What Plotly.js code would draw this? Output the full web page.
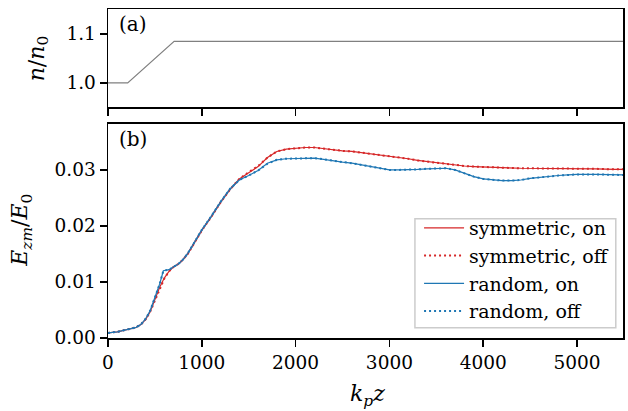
<!DOCTYPE html>
<html>
<head>
<meta charset="utf-8">
<script src="https://cdn.plot.ly/plotly-3.0.1.min.js"></script>
<style>html,body{margin:0;padding:0;background:#fff;}#chart{width:628px;height:411px;}</style>
</head>
<body>
<div id="chart"></div>
<script>
// ---- Data ----
const densX = [0, 210, 705, 5490];
const densY = [1.0, 1.0, 1.085, 1.085];

const symX = [0,100,200,300,350,400,450,500,550,600,650,700,750,800,850,900,950,1000,1100,1200,1300,1400,1500,1600,1700,1800,1900,2000,2100,2200,2300,2400,2500,2600,2700,2800,2900,3000,3100,3200,3300,3400,3500,3600,3700,3800,3900,4000,4100,4200,4400,4600,4800,5000,5200,5400,5490];
const symOn = [0.0009,0.0011,0.0015,0.0019,0.0024,0.0033,0.0047,0.0068,0.0090,0.0107,0.0119,0.0127,0.0132,0.0140,0.0150,0.0164,0.0178,0.0192,0.0216,0.0242,0.0265,0.0284,0.0295,0.0306,0.0322,0.0333,0.0337,0.0339,0.0340,0.0340,0.0338,0.0335,0.0334,0.0333,0.0331,0.0328,0.0326,0.0324,0.0322,0.0320,0.0317,0.0315,0.0312,0.0310,0.0308,0.0307,0.0306,0.0305,0.0304,0.0304,0.0303,0.0303,0.0303,0.0303,0.0302,0.0301,0.0301];
const symOff = [0.0009,0.0011,0.0015,0.0019,0.0024,0.0033,0.0047,0.0067,0.0089,0.0106,0.0119,0.0127,0.0132,0.0140,0.0150,0.0164,0.0178,0.0192,0.0216,0.0242,0.0265,0.0284,0.0296,0.0307,0.0322,0.0333,0.0337,0.0339,0.0340,0.0340,0.0338,0.0335,0.0334,0.0333,0.0331,0.0328,0.0326,0.0324,0.0322,0.0320,0.0317,0.0315,0.0312,0.0310,0.0308,0.0307,0.0306,0.0305,0.0304,0.0304,0.0303,0.0303,0.0303,0.0303,0.0302,0.0301,0.0301];

const rndX = [0,100,200,300,350,400,450,500,550,590,650,700,750,800,850,900,950,1000,1100,1200,1300,1400,1500,1600,1700,1800,1900,2000,2100,2200,2300,2400,2500,2600,2700,2800,2900,3000,3100,3200,3300,3400,3500,3600,3700,3800,3900,4000,4100,4200,4300,4400,4500,4600,4700,4800,4900,5000,5200,5400,5490];
const rndOn = [0.0009,0.0011,0.0015,0.0019,0.0024,0.0034,0.0049,0.0072,0.0096,0.0120,0.0122,0.0127,0.0132,0.0140,0.0151,0.0165,0.0179,0.0193,0.0217,0.0243,0.0266,0.0282,0.0290,0.0299,0.0312,0.0318,0.0320,0.0320,0.0321,0.0321,0.0319,0.0316,0.0314,0.0312,0.0309,0.0306,0.0303,0.0300,0.0300,0.0300,0.0301,0.0302,0.0303,0.0303,0.0300,0.0294,0.0288,0.0284,0.0282,0.0281,0.0281,0.0282,0.0285,0.0287,0.0289,0.0290,0.0291,0.0292,0.0292,0.0291,0.0291];
const rndOff = [0.0009,0.0011,0.0015,0.0019,0.0024,0.0034,0.0049,0.0072,0.0096,0.0120,0.0122,0.0127,0.0132,0.0140,0.0151,0.0165,0.0179,0.0193,0.0217,0.0243,0.0266,0.0282,0.0290,0.0299,0.0311,0.0318,0.0320,0.0320,0.0321,0.0321,0.0319,0.0316,0.0314,0.0312,0.0309,0.0306,0.0303,0.0300,0.0300,0.0300,0.0301,0.0302,0.0303,0.0303,0.0300,0.0294,0.0288,0.0284,0.0282,0.0281,0.0281,0.0282,0.0285,0.0287,0.0289,0.0290,0.0291,0.0292,0.0292,0.0291,0.0291];

const xTicks = [0, 1000, 2000, 3000, 4000, 5000];
const legendNames = ['symmetric, on', 'symmetric, off', 'random, on', 'random, off'];

// ---- Styles ----
const RED = '#d62728', BLUE = '#1f77b4';
const FONT = 'DejaVu Serif';

const traces = [
  {x: densX, y: densY, xaxis: 'x2', yaxis: 'y2', mode: 'lines', line: {color: '#808080', width: 1.2}, showlegend: false, hoverinfo: 'skip'},
  {x: symX, y: symOn, xaxis: 'x', yaxis: 'y', mode: 'lines', name: legendNames[0], line: {color: RED, width: 1.2}},
  {x: symX, y: symOff, xaxis: 'x', yaxis: 'y', mode: 'lines', name: legendNames[1], line: {color: RED, width: 2, dash: '2px,3px'}},
  {x: rndX, y: rndOn, xaxis: 'x', yaxis: 'y', mode: 'lines', name: legendNames[2], line: {color: BLUE, width: 1.2}},
  {x: rndX, y: rndOff, xaxis: 'x', yaxis: 'y', mode: 'lines', name: legendNames[3], line: {color: BLUE, width: 2, dash: '2px,3px'}}
];

const axBase = {
  showgrid: false, zeroline: false, showline: true, linecolor: '#000', linewidth: 1.5,
  mirror: true, ticks: 'outside', ticklen: 7, tickwidth: 1.5, tickcolor: '#000',
  tickfont: {family: FONT, size: 18.5, color: '#000'}
};

const titleFont = {family: FONT, size: 22, color: '#000'};

const layout = {
  width: 628, height: 411,
  margin: {l: 108, r: 5, t: 9, b: 73},
  paper_bgcolor: '#fff', plot_bgcolor: '#fff',
  font: {family: FONT, size: 18.5, color: '#000'},
  showlegend: true,
  legend: {
    x: 0.604, y: 0.392, xanchor: 'left', yanchor: 'top',
    bgcolor: 'rgba(0,0,0,0)', borderwidth: 0,
    font: {family: FONT, size: 19, color: '#000'},
    tracegroupgap: 0, itemwidth: 40
  },
  shapes: [
    {type: 'rect', xref: 'paper', yref: 'paper', x0: 0.596, x1: 0.986, y0: 0.031, y1: 0.3626,
     line: {color: '#cccccc', width: 1.5}, fillcolor: '#ffffff', layer: 'above'}
  ],
  xaxis: Object.assign({}, axBase, {
    domain: [0, 1], range: [0, 5490], tickvals: xTicks, anchor: 'y'
  }),
  yaxis: Object.assign({}, axBase, {
    domain: [0, 0.6505], range: [0, 0.0382], tickvals: [0, 0.01, 0.02, 0.03], tickformat: '.2f', anchor: 'x'
  }),
  xaxis2: Object.assign({}, axBase, {
    domain: [0, 1], range: [0, 5490], tickvals: xTicks, showticklabels: false, anchor: 'y2', matches: 'x'
  }),
  yaxis2: Object.assign({}, axBase, {
    domain: [0.7009, 1], range: [0.95, 1.151], tickvals: [1.0, 1.1], tickformat: '.1f', anchor: 'x2'
  }),
  annotations: [
    {text: '<i>k</i><sub><i>p</i></sub><i>z</i>', xref: 'paper', yref: 'paper', x: 0.503, y: -0.175, xanchor: 'center', yanchor: 'middle', showarrow: false, font: titleFont},
    {text: '<i>E</i><sub><i>zm</i></sub>/<i>E</i><sub>0</sub>', xref: 'paper', yref: 'paper', x: -0.167, y: 0.329, xanchor: 'center', yanchor: 'middle', textangle: -90, showarrow: false, font: titleFont},
    {text: '<i>n</i>/<i>n</i><sub>0</sub>', xref: 'paper', yref: 'paper', x: -0.136, y: 0.850, xanchor: 'center', yanchor: 'middle', textangle: -90, showarrow: false, font: titleFont},
    {text: '(a)', xref: 'x2 domain', yref: 'y2 domain', x: 0.017, y: 0.985, xanchor: 'left', yanchor: 'top', showarrow: false, font: {family: FONT, size: 20, color: '#000'}},
    {text: '(b)', xref: 'x domain', yref: 'y domain', x: 0.017, y: 0.995, xanchor: 'left', yanchor: 'top', showarrow: false, font: {family: FONT, size: 20, color: '#000'}}
  ]
};

Plotly.newPlot('chart', traces, layout, {staticPlot: true, displayModeBar: false});
</script>
</body>
</html>
